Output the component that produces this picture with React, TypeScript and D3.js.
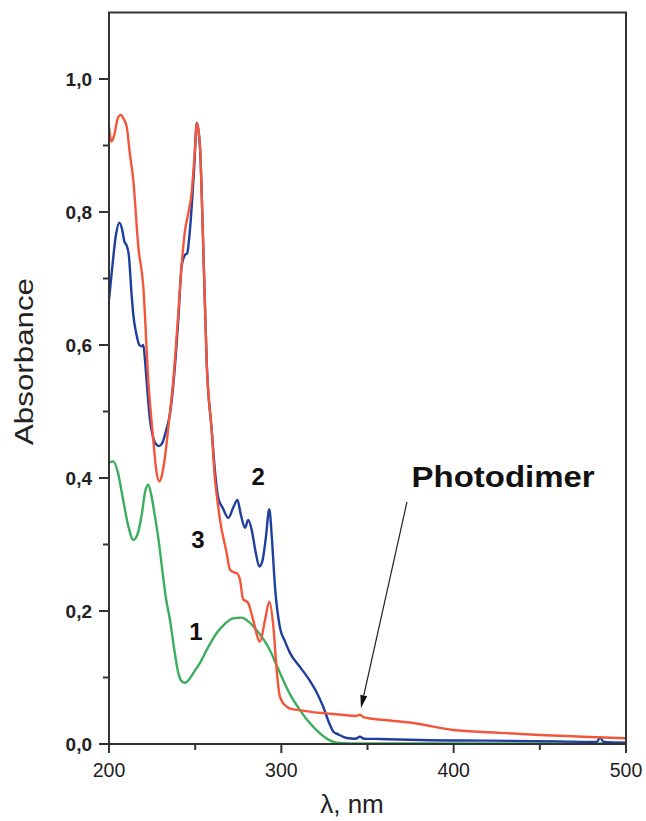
import React from "react";
import * as d3 from "d3";

// ---- data (wavelength nm, absorbance) ----
const curve3Wl = [200,201.5,203,205,206.8,208.5,210.3,212,214.1,217,219.9,222.8,225.7,227.5,229.2,230.5,232.5,235,237.3,240,242.1,244,246,248,248.9,250,250.9,251.8,252.8,254.7,256.7,259.6,261.5,262.5,264.4,268.3,270.2,272.5,274.1,276,277.9,279.5,280.8,283.7,287.6,290.5,293,295.4,297.3,299.2,303.1,306.8,310.8,318,326.3,335,343,345.6,348,360,376.4,399.6,425,450,475,500];
const curve3Abs = [0.928,0.906,0.915,0.94,0.946,0.94,0.928,0.89,0.848,0.748,0.688,0.547,0.457,0.41,0.395,0.402,0.432,0.49,0.547,0.64,0.718,0.77,0.798,0.83,0.859,0.9,0.933,0.925,0.898,0.748,0.573,0.472,0.397,0.375,0.337,0.287,0.262,0.258,0.257,0.247,0.217,0.215,0.212,0.186,0.154,0.186,0.214,0.176,0.111,0.071,0.056,0.052,0.051,0.048,0.046,0.044,0.042,0.044,0.040,0.036,0.0316,0.021,0.017,0.0135,0.011,0.0086];

const curve2Wl = [200,202,204,206,207.5,209,210.2,211.5,213,214,216,217.6,219,219.9,220.8,221.8,223.8,225.5,227.2,229,230.8,233,235.4,238,240.2,242.2,244,245.4,246.5,248,249.5,250.9,251.8,252.8,254.7,256.7,259.6,261.5,263.4,266,269.3,272,274.5,276.5,278.9,280.8,282.8,285,287.2,289,291,293,294.5,296.3,299.2,302,305,310.8,316.6,320,324.3,328,330.2,333,337.9,343,345.6,348,357.3,380,420,460,483,485,487,500];
const curve2Abs = [0.668,0.72,0.765,0.784,0.775,0.755,0.75,0.735,0.68,0.648,0.615,0.6,0.598,0.6,0.58,0.547,0.487,0.462,0.451,0.448,0.452,0.47,0.497,0.56,0.638,0.72,0.735,0.738,0.76,0.808,0.87,0.934,0.925,0.898,0.748,0.573,0.472,0.41,0.37,0.355,0.34,0.355,0.367,0.345,0.325,0.337,0.322,0.29,0.267,0.275,0.31,0.353,0.31,0.237,0.175,0.155,0.137,0.116,0.095,0.08,0.056,0.03,0.0185,0.0145,0.009,0.008,0.011,0.008,0.0075,0.006,0.005,0.004,0.003,0.01,0.003,0.002];

const curve1Wl = [200,202.5,205,208,211,214.1,216.5,219,221,222.8,224.5,226.5,228.6,231,233,235.4,238,240.2,242,244.1,246.5,249,252.8,257,262.5,267,272,277,281,285.7,289,293.4,297,301.1,305,310.8,316,322.4,327,332.1,340,500];
const curve1Abs = [0.423,0.425,0.41,0.37,0.33,0.307,0.315,0.345,0.38,0.39,0.375,0.345,0.31,0.26,0.22,0.186,0.14,0.107,0.095,0.092,0.097,0.107,0.122,0.143,0.167,0.18,0.189,0.19,0.184,0.171,0.16,0.141,0.12,0.096,0.075,0.051,0.033,0.016,0.007,0.002,0.001,0.001];

const xMajorTicks = [200, 300, 400, 500];
const xMinorTicks = [250, 350, 450];
const yMajorTicks = [0, 0.2, 0.4, 0.6, 0.8, 1.0];
const yMinorTicks = [0.1, 0.3, 0.5, 0.7, 0.9];
const yTickLabels = ["0,0", "0,2", "0,4", "0,6", "0,8", "1,0"];

const curveLabels = [
  { text: "1", wl: 250.5, abs: 0.156 },
  { text: "2", wl: 286.5, abs: 0.389 },
  { text: "3", wl: 251.6, abs: 0.294 },
];
const photodimerLabel = { text: "Photodimer", wl: 375.6, abs: 0.387 };
const arrowFrom = { wl: 372.9, abs: 0.364 };
const arrowTo = { wl: 346.2, abs: 0.054 };

const series = [
  { wl: curve1Wl, abs: curve1Abs, color: "#3aae5e" },
  { wl: curve2Wl, abs: curve2Abs, color: "#1f3f9e" },
  { wl: curve3Wl, abs: curve3Abs, color: "#f2563b" },
];

export default function App() {
  const W = 646, H = 821;
  const left = 109, right = 626, bottom = 744;
  const pxPerUnit = 665;
  const yMax = 1.1;
  const x = d3.scaleLinear().domain([200, 500]).range([left, right]);
  const y = d3.scaleLinear().domain([0, yMax]).range([bottom, bottom - yMax * pxPerUnit]);
  const top = y(yMax);

  const line = d3
    .line<[number, number]>()
    .x((d) => x(d[0]))
    .y((d) => y(d[1]))
    .curve(d3.curveMonotoneX);

  const axisColor = "#333";
  const font = "'Liberation Sans', Arial, sans-serif";

  const ax1 = x(arrowFrom.wl), ay1 = y(arrowFrom.abs);
  const ax2 = x(arrowTo.wl), ay2 = y(arrowTo.abs);
  const ang = Math.atan2(ay2 - ay1, ax2 - ax1);
  const headLen = 13, headW = 3.5;
  const bx = ax2 - headLen * Math.cos(ang), by = ay2 - headLen * Math.sin(ang);
  const px = -Math.sin(ang) * headW, py = Math.cos(ang) * headW;

  return (
    <div style={{ position: "absolute", left: 0, top: 0 }}>
      <svg width={W} height={H} style={{ display: "block", background: "#fff" }} fontFamily={font}>
        <defs>
          <clipPath id="plotclip">
            <rect x={left} y={top} width={right - left} height={bottom - top} />
          </clipPath>
        </defs>
        <g clipPath="url(#plotclip)">
          {series.map((s, i) => (
            <path
              key={i}
              d={line(s.wl.map((w, j) => [w, s.abs[j]] as [number, number])) || ""}
              fill="none"
              stroke={s.color}
              strokeWidth={2.4}
              strokeLinejoin="round"
            />
          ))}
        </g>
        {/* frame */}
        <rect x={left} y={top} width={right - left} height={bottom - top} fill="none" stroke={axisColor} strokeWidth={2} />
        {/* x ticks */}
        {xMajorTicks.map((t) => (
          <g key={"xm" + t}>
            <line x1={x(t)} x2={x(t)} y1={bottom} y2={bottom + 9} stroke={axisColor} strokeWidth={2} />
            <text x={x(t)} y={bottom + 33} textAnchor="middle" fontSize={19.5} fill="#222">
              {t}
            </text>
          </g>
        ))}
        {xMinorTicks.map((t) => (
          <line key={"xn" + t} x1={x(t)} x2={x(t)} y1={bottom} y2={bottom + 6} stroke={axisColor} strokeWidth={2} />
        ))}
        {/* y ticks */}
        {yMajorTicks.map((t, i) => (
          <g key={"ym" + t}>
            <line x1={left - 10} x2={left} y1={y(t)} y2={y(t)} stroke={axisColor} strokeWidth={2} />
            <text x={left - 17} y={y(t) + 6.5} textAnchor="end" fontSize={19} fontWeight="bold" fill="#222">
              {yTickLabels[i]}
            </text>
          </g>
        ))}
        {yMinorTicks.map((t) => (
          <line key={"yn" + t} x1={left - 6} x2={left} y1={y(t)} y2={y(t)} stroke={axisColor} strokeWidth={2} />
        ))}
        {/* axis titles */}
        <text x={352} y={813} textAnchor="middle" fontSize={26} fill="#222">
          λ, nm
        </text>
        <text
          transform={`translate(33, 361.5) rotate(-90)`}
          textAnchor="middle"
          fontSize={26}
          fill="#222"
          textLength={167}
          lengthAdjust="spacingAndGlyphs"
        >
          Absorbance
        </text>
        {/* curve labels */}
        {curveLabels.map((l) => (
          <text key={l.text} x={x(l.wl)} y={y(l.abs)} textAnchor="middle" fontSize={24} fontWeight="bold" fill="#111">
            {l.text}
          </text>
        ))}
        <text
          x={x(photodimerLabel.wl)}
          y={y(photodimerLabel.abs)}
          fontSize={29}
          fontWeight="bold"
          fill="#111"
          textLength={183}
          lengthAdjust="spacingAndGlyphs"
        >
          {photodimerLabel.text}
        </text>
        {/* arrow */}
        <line x1={ax1} y1={ay1} x2={bx} y2={by} stroke="#222" strokeWidth={1.2} />
        <path d={`M${ax2},${ay2} L${bx + px},${by + py} L${bx - px},${by - py} Z`} fill="#111" />
      </svg>
    </div>
  );
}
